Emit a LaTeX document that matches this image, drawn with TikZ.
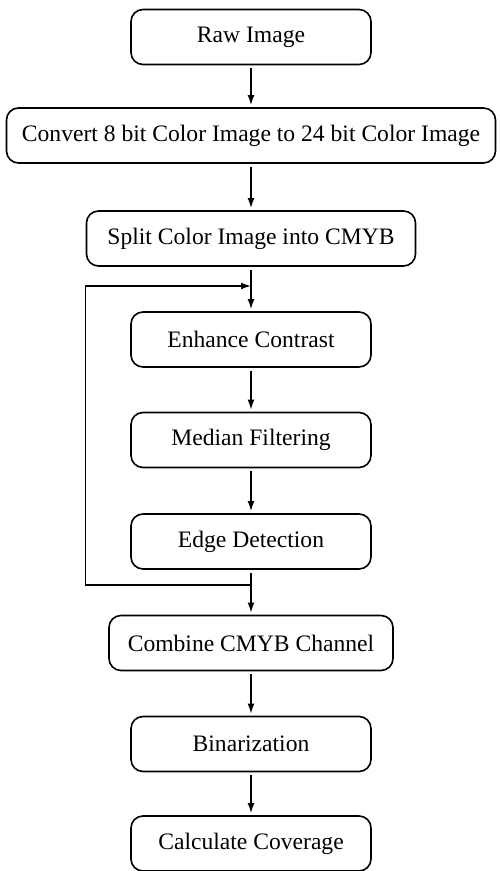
\documentclass[tikz,border=0pt]{standalone}
\usepackage{fontspec}
\setmainfont{Liberation Serif}
\usepackage{tikz}
\usetikzlibrary{arrows.meta}

\tikzset{
  stepbox/.style={draw, rounded corners=6pt, line width=0.8pt, minimum width=120pt,
    minimum height=27.5pt, inner sep=0pt, font=\fontsize{11.8}{14}\selectfont},
  flow/.style={line width=0.7pt, -{Latex[length=5pt,width=3.4pt]}, shorten <=1.5pt, shorten >=1pt}
}

\begin{document}
\begin{tikzpicture}[x=0.5pt,y=-0.5pt]
    \useasboundingbox (0,0) rectangle (499,871);
    % Processing steps
    \node[stepbox] (raw) at (251,37) {Raw Image};
    \node[stepbox, minimum width=244.5pt] (conv) at (251,135.5) {Convert 8 bit Color Image to 24 bit Color Image};
    \node[stepbox, minimum width=164.5pt] (split) at (251,238.5) {Split Color Image into CMYB};
    \node[stepbox] (enh) at (251,339.5) {Enhance Contrast};
    \node[stepbox] (med) at (251,440) {Median Filtering};
    \node[stepbox] (edge) at (251,541.5) {Edge Detection};
    \node[stepbox, minimum width=142pt] (comb) at (251,643) {Combine CMYB Channel};
    \node[stepbox] (bin) at (251,744) {Binarization};
    \node[stepbox] (calc) at (251,843.5) {Calculate Coverage};

    \draw[flow] (raw) -- (conv);
    \draw[flow] (conv) -- (split);
    \draw[flow] (split) -- (enh);
    \draw[flow] (enh) -- (med);
    \draw[flow] (med) -- (edge);
    \draw[flow] (edge) -- (comb);
    \draw[flow] (comb) -- (bin);
    \draw[flow] (bin) -- (calc);

    % Loop back over each channel
    \coordinate (loopin) at (251,286);
    \coordinate (loopout) at (251,585);
    \draw[flow, shorten <=0pt, shorten >=0pt] (loopout) -- (loopout -| split.west) -- (loopin -| split.west) -- (loopin);
\end{tikzpicture}
\end{document}
